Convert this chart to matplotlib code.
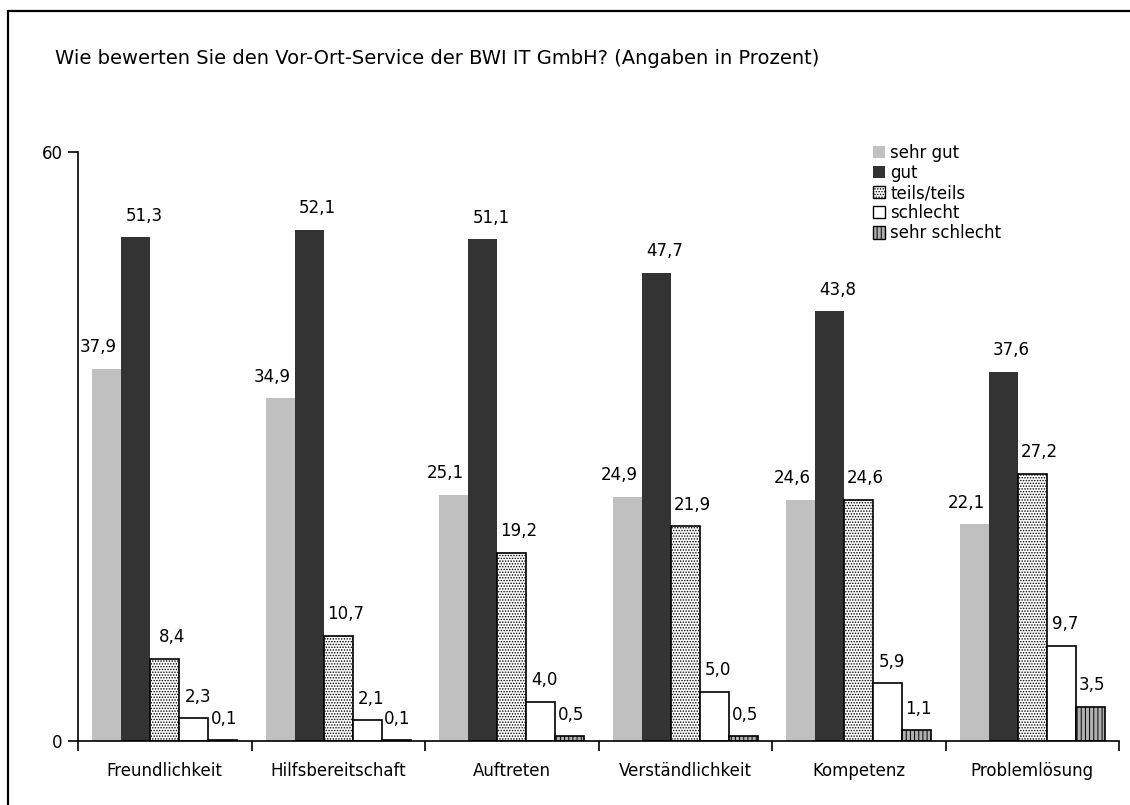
import matplotlib
matplotlib.use("Agg")
import matplotlib.pyplot as plt
from matplotlib.patches import Rectangle, Patch
import numpy as np

plt.rcParams['font.family'] = ['DejaVu Sans']
plt.rcParams['hatch.linewidth'] = 0.7

title = "Wie bewerten Sie den Vor-Ort-Service der BWI IT GmbH? (Angaben in Prozent)"
categories = ["Freundlichkeit", "Hilfsbereitschaft", "Auftreten",
              "Verständlichkeit", "Kompetenz", "Problemlösung"]
series_names = ["sehr gut", "gut", "teils/teils", "schlecht", "sehr schlecht"]
sehr_gut = [37.9, 34.9, 25.1, 24.9, 24.6, 22.1]
gut = [51.3, 52.1, 51.1, 47.7, 43.8, 37.6]
teils_teils = [8.4, 10.7, 19.2, 21.9, 24.6, 27.2]
schlecht = [2.3, 2.1, 4.0, 5.0, 5.9, 9.7]
sehr_schlecht = [0.1, 0.1, 0.5, 0.5, 1.1, 3.5]
y_ticks = [0, 60]

series = [sehr_gut, gut, teils_teils, schlecht, sehr_schlecht]
styles = [
    dict(facecolor="#c0c0c0", edgecolor="none", hatch=None),
    dict(facecolor="#333333", edgecolor="none", hatch=None),
    dict(facecolor="white", edgecolor="black", hatch="......"),
    dict(facecolor="white", edgecolor="black", hatch=None),
    dict(facecolor="#b0b0b0", edgecolor="black", hatch="||||"),
]
# horizontal nudge (points) of the value labels for each series
label_dx = [3, 6, 5, 3, 1]

W, H = 1130, 805
fig = plt.figure(figsize=(W / 100, H / 100), dpi=100)
ax = fig.add_axes([78 / W, 1 - 741 / H, (1119 - 78) / W, (741 - 152) / H])

n = len(categories)
bw = 0.167
x0 = np.arange(n) + 0.5
fs = 12

handles = []
for j, (vals, st) in enumerate(zip(series, styles)):
    xs = x0 + (j - 2) * bw
    ax.bar(xs, vals, width=bw, facecolor=st["facecolor"],
           edgecolor=st["edgecolor"], hatch=st["hatch"],
           linewidth=1.2 if st["edgecolor"] != "none" else 0)
    for i, (x, v) in enumerate(zip(xs, vals)):
        dx = label_dx[j]
        # keep the label clear of a much taller neighbouring bar
        if j == 0 and gut[i] - v > 10:
            dx = -6
        ax.annotate(f"{v:.1f}".replace(".", ","), (x, v), xytext=(dx, 9),
                    textcoords="offset points", ha="center", va="bottom",
                    fontsize=fs)
    handles.append(Patch(facecolor=st["facecolor"], edgecolor=st["edgecolor"],
                         hatch=st["hatch"],
                         linewidth=1.0 if st["edgecolor"] != "none" else 0,
                         label=series_names[j]))

ax.set_xlim(0, n)
ax.set_ylim(0, 60)
ax.set_yticks(y_ticks)
ax.set_yticklabels([str(t) for t in y_ticks], fontsize=fs)
ax.set_xticks(np.arange(n + 1))
ax.set_xticklabels([])
ax.set_xticks(x0, minor=True)
ax.set_xticklabels(categories, minor=True, fontsize=fs)
ax.tick_params(axis="x", which="minor", length=0, pad=15)
ax.tick_params(axis="x", which="major", length=7, width=1.2, direction="out")
ax.tick_params(axis="y", length=7, width=1.2, direction="out", pad=4)
for side in ("top", "right"):
    ax.spines[side].set_visible(False)
for side in ("left", "bottom"):
    ax.spines[side].set_linewidth(1.2)

fig.text(55 / W, 1 - 58 / H, title, fontsize=14, ha="left", va="center")

fig.legend(handles=handles, loc="upper left",
           bbox_to_anchor=(866 / W, 1 - 137 / H), frameon=False,
           fontsize=fs, handlelength=0.75, handleheight=0.75,
           handletextpad=0.3, labelspacing=0.13, borderaxespad=0)

# outer frame
fig.patches.append(Rectangle((8 / W, -0.05), 1.2, 1 - 11 / H + 0.05,
                             transform=fig.transFigure, fill=False,
                             edgecolor="black", linewidth=1.6))

fig.savefig("out.png", dpi=100)
